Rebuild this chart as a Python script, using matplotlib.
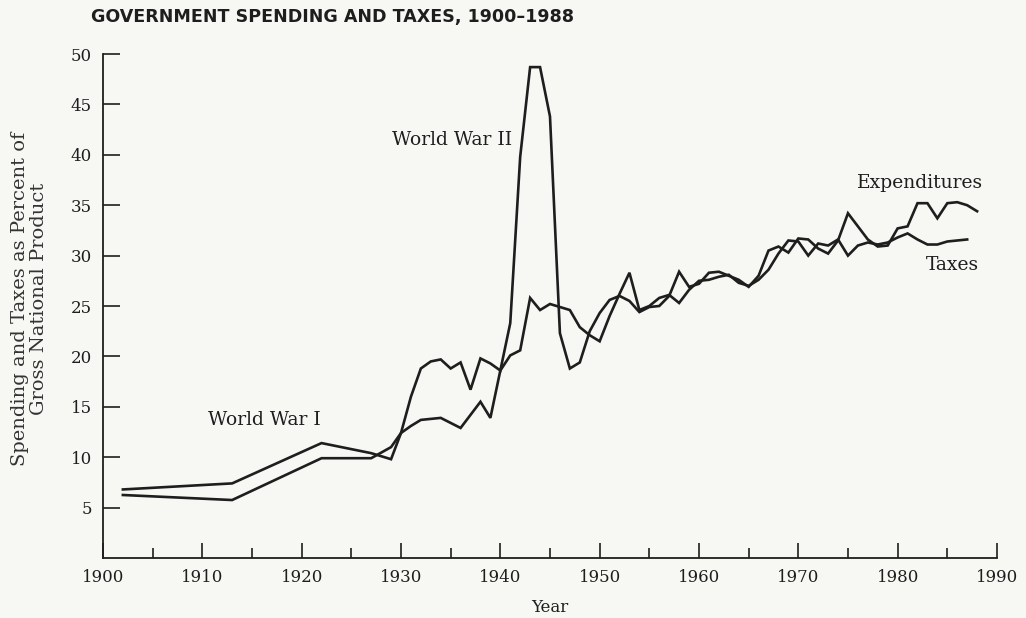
import matplotlib
matplotlib.use('Agg')
import matplotlib.pyplot as plt
from matplotlib.ticker import MultipleLocator, FixedLocator

# ── Data (percent of GNP) ─────────────────────────────────────────────────────

exp_years = [1902, 1913, 1922, 1927, 1929, 1930, 1931, 1932, 1933, 1934,
             1935, 1936, 1937, 1938, 1939, 1940, 1941, 1942, 1943, 1944,
             1945, 1946, 1947, 1948, 1949, 1950, 1951, 1952, 1953, 1954,
             1955, 1956, 1957, 1958, 1959, 1960, 1961, 1962, 1963, 1964,
             1965, 1966, 1967, 1968, 1969, 1970, 1971, 1972, 1973, 1974,
             1975, 1976, 1977, 1978, 1979, 1980, 1981, 1982, 1983, 1984,
             1985, 1986, 1987, 1988]
expenditures = [6.8, 7.4, 11.4, 10.4, 9.8, 12.4, 16.0, 18.8, 19.5, 19.7,
                18.8, 19.4, 16.7, 19.8, 19.3, 18.6, 23.3, 39.8, 48.7, 48.7,
                43.8, 22.3, 18.8, 19.4, 22.5, 24.3, 25.6, 26.0, 25.5, 24.4,
                24.9, 25.0, 26.0, 28.4, 26.9, 27.2, 28.3, 28.4, 28.0, 27.6,
                26.9, 28.0, 30.5, 30.9, 30.3, 31.7, 31.6, 30.7, 30.2, 31.5,
                34.2, 32.9, 31.6, 30.9, 31.0, 32.7, 32.9, 35.2, 35.2, 33.7,
                35.2, 35.3, 35.0, 34.4]

tax_years = [1902, 1913, 1922, 1927, 1929, 1930, 1931, 1932, 1933, 1934,
             1935, 1936, 1937, 1938, 1939, 1940, 1941, 1942, 1943, 1944,
             1945, 1946, 1947, 1948, 1949, 1950, 1951, 1952, 1953, 1954,
             1955, 1956, 1957, 1958, 1959, 1960, 1961, 1962, 1963, 1964,
             1965, 1966, 1967, 1968, 1969, 1970, 1971, 1972, 1973, 1974,
             1975, 1976, 1977, 1978, 1979, 1980, 1981, 1982, 1983, 1984,
             1985, 1986, 1987]
taxes = [6.25, 5.75, 9.9, 9.9, 11.0, 12.4, 13.1, 13.7, 13.8, 13.9,
         13.4, 12.9, 14.2, 15.5, 13.9, 18.6, 20.1, 20.6, 25.8, 24.6,
         25.2, 24.9, 24.6, 22.9, 22.1, 21.5, 24.0, 26.2, 28.3, 24.6,
         25.0, 25.8, 26.1, 25.3, 26.6, 27.5, 27.6, 27.9, 28.1, 27.3,
         27.0, 27.6, 28.6, 30.2, 31.5, 31.4, 30.0, 31.2, 31.0, 31.6,
         30.0, 31.0, 31.3, 31.1, 31.3, 31.8, 32.2, 31.6, 31.1, 31.1,
         31.4, 31.5, 31.6]

y_ticks = [5, 10, 15, 20, 25, 30, 35, 40, 45, 50]
x_ticks = list(range(1900, 1991, 10))

# ── Figure ────────────────────────────────────────────────────────────────────

BG = '#f7f7f4'
INK = '#1e1e1e'
SERIF = 'DejaVu Serif'

fig = plt.figure(figsize=(10.26, 6.18), dpi=100)
fig.patch.set_facecolor(BG)
ax = fig.add_axes([0.1004, 0.0971, 0.8713, 0.8155])
ax.set_facecolor(BG)

ax.plot(exp_years, expenditures, color=INK, linewidth=1.9, solid_joinstyle='miter')
ax.plot(tax_years, taxes, color=INK, linewidth=1.9, solid_joinstyle='miter')

ax.set_xlim(1900, 1990)
ax.set_ylim(0, 50)

for s in ('top', 'right'):
    ax.spines[s].set_visible(False)
for s in ('left', 'bottom'):
    ax.spines[s].set_linewidth(1.3)
    ax.spines[s].set_color(INK)

ax.xaxis.set_major_locator(FixedLocator(x_ticks))
ax.xaxis.set_minor_locator(MultipleLocator(5))
ax.yaxis.set_major_locator(FixedLocator(y_ticks))

ax.tick_params(axis='both', which='both', direction='in', color=INK, width=1.2,
               labelcolor=INK)
ax.tick_params(axis='x', which='major', length=10.5, pad=8, labelsize=12)
ax.tick_params(axis='x', which='minor', length=7)
ax.tick_params(axis='y', which='major', length=12, pad=8, labelsize=12)

# y ticks: long at tens, short at fives
for t in ax.yaxis.get_major_ticks():
    if t.get_loc() % 10 != 0:
        t.tick1line.set_markersize(6.5)

for lbl in ax.get_xticklabels() + ax.get_yticklabels():
    lbl.set_family(SERIF)

ax.set_xlabel('Year', family=SERIF, fontsize=12, color=INK, labelpad=9)

fig.text(0.029, 0.517, 'Spending and Taxes as Percent of\nGross National Product',
         rotation=90, ha='center', va='center', multialignment='center',
         family=SERIF, fontsize=14, color='#333333', linespacing=1.05)

# ── Annotations ───────────────────────────────────────────────────────────────

ann = dict(ha='center', va='center', family=SERIF, fontsize=13.5, color=INK)
ax.text(1916.2, 13.7, 'World War I', **ann)
ax.text(1935.15, 41.5, 'World War II', **ann)
ax.text(1982.3, 37.2, 'Expenditures', **ann)
ax.text(1985.5, 29.1, 'Taxes', **ann)

fig.text(0.089, 0.972, 'GOVERNMENT SPENDING AND TAXES, 1900\u20131988',
         ha='left', va='center', fontsize=12.6, fontweight='bold',
         family='DejaVu Sans', color=INK)

fig.savefig('out.png', dpi=100, facecolor=BG)
